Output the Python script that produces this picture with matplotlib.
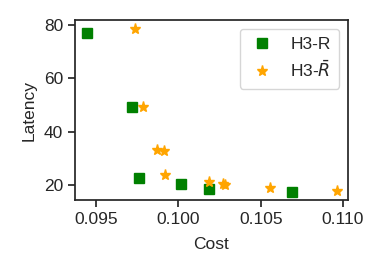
import matplotlib
matplotlib.use("Agg")
from matplotlib import pyplot as plt
import seaborn as sns

sns.set_style("ticks")
plt.rcParams['font.family'] = ['Liberation Sans', 'DejaVu Sans']

r_cost = [0.09445, 0.09720, 0.09761, 0.10016, 0.10188, 0.10688]
r_latency = [77.1, 49.1, 22.5, 20.3, 18.4, 17.5]

rbar_cost = [0.09734, 0.09785, 0.09873, 0.09914, 0.09918, 0.10189,
             0.10271, 0.10286, 0.10557, 0.10965]
rbar_latency = [78.4, 49.4, 33.1, 32.9, 23.8, 21.2, 20.4, 20.1, 19.0, 17.75]

fig = plt.figure(figsize=(3.82, 2.73), dpi=100)
ax = fig.add_axes([0.196, 0.267, 0.715, 0.66])

ax.plot(r_cost, r_latency, 's', color='green', markersize=7.5,
        label='H3-R')
ax.plot(rbar_cost, rbar_latency, '*', color='orange', markersize=8,
        label=r'H3-$\bar{R}$')

ax.set_xlim(0.09372, 0.1103)
ax.set_ylim(14.4, 81.9)
ax.set_xticks([0.095, 0.100, 0.105, 0.110])
ax.set_yticks([20, 40, 60, 80])
ax.set_xlabel('Cost', fontsize=12.5, labelpad=7)
ax.set_ylabel('Latency', fontsize=12.5, labelpad=5)
ax.tick_params(labelsize=12.5, length=5, width=1.25, color='#262626')
for s in ax.spines.values():
    s.set_linewidth(1.25)
    s.set_color('#262626')

ax.legend(loc='upper right', fontsize=12.5, handlelength=1.6,
          borderpad=0.5, labelspacing=0.4)

fig.savefig('out.png', dpi=100)
